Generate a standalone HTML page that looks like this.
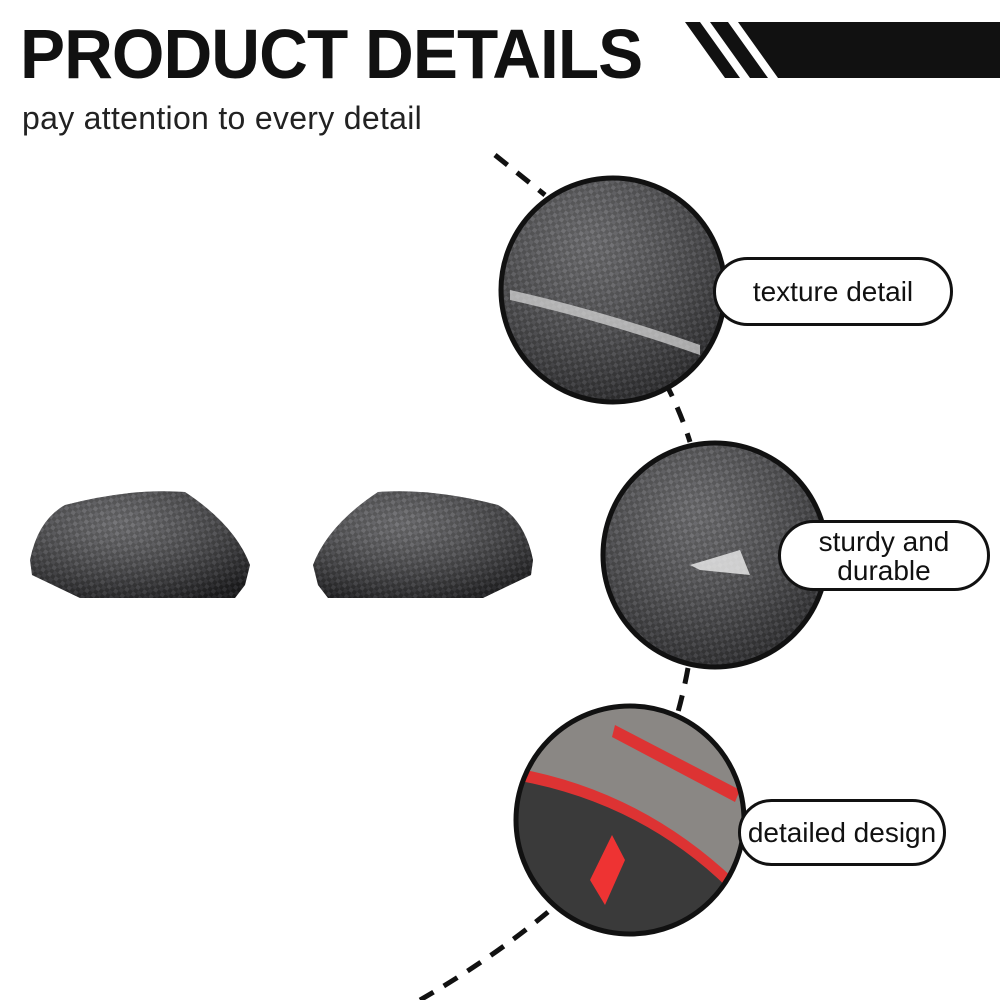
<!DOCTYPE html>
<html><head><meta charset="utf-8"><style>
body{margin:0;width:1000px;height:1000px;background:#fff;position:relative;overflow:hidden;font-family:"Liberation Sans",sans-serif}
.t{position:absolute;left:20px;top:14px;font-size:70px;font-weight:bold;letter-spacing:-1px;color:#111;transform:scaleX(0.965);transform-origin:left top;white-space:nowrap}
.s{position:absolute;left:22px;top:100px;font-size:32px;color:#222;letter-spacing:0.3px;white-space:nowrap}
.pill{position:absolute;border:3px solid #111;border-radius:40px;background:#fff;font-size:28px;color:#111;display:flex;align-items:center;justify-content:center;text-align:center;line-height:29px;box-sizing:border-box}
</style></head><body>
<div class="t">PRODUCT DETAILS</div>
<div class="s">pay attention to every detail</div>
<svg width="1000" height="1000" style="position:absolute;left:0;top:0">
<defs>
<pattern id="cf" width="8" height="8" patternUnits="userSpaceOnUse" patternTransform="rotate(35)">
<rect width="8" height="8" fill="#2a2a2c"/><rect width="4" height="4" fill="#4a4a4e"/><rect x="4" y="4" width="4" height="4" fill="#3c3c40"/></pattern>
<radialGradient id="sh" cx="0.4" cy="0.3" r="0.8"><stop offset="0" stop-color="#fff" stop-opacity="0.25"/><stop offset="1" stop-color="#000" stop-opacity="0.4"/></radialGradient>
<clipPath id="c1"><circle cx="613" cy="290" r="111"/></clipPath>
<clipPath id="c2"><circle cx="715" cy="555" r="111"/></clipPath>
<clipPath id="c3"><circle cx="630" cy="820" r="113"/></clipPath>
</defs>
<polygon points="685,22 700,22 740,78 725,78" fill="#111"/>
<polygon points="710,22 728,22 768,78 750,78" fill="#111"/>
<polygon points="738,22 1000,22 1000,78 778,78" fill="#111"/>
<g fill="none" stroke="#111" stroke-width="5" stroke-dasharray="16,12">
<path d="M495,155 Q520,175 545,195"/>
<path d="M665,382 Q680,410 690,442"/>
<path d="M688,668 Q684,690 678,712"/>
<path d="M548,912 Q490,960 420,1000"/>
</g>
<path d="M30,560 Q38,520 65,505 Q130,488 185,492 Q235,525 250,565 L245,585 L235,598 L80,598 L32,575 Z" fill="url(#cf)"/>
<path d="M30,560 Q38,520 65,505 Q130,488 185,492 Q235,525 250,565 L245,585 L235,598 L80,598 L32,575 Z" fill="url(#sh)"/>
<path d="M533,560 Q525,520 498,505 Q433,488 378,492 Q328,525 313,565 L318,585 L328,598 L483,598 L531,575 Z" fill="url(#cf)"/>
<path d="M533,560 Q525,520 498,505 Q433,488 378,492 Q328,525 313,565 L318,585 L328,598 L483,598 L531,575 Z" fill="url(#sh)"/>
<g clip-path="url(#c1)"><rect x="490" y="170" width="250" height="240" fill="url(#cf)"/><rect x="490" y="170" width="250" height="240" fill="url(#sh)"/>
<path d="M510,290 Q600,310 700,345 L700,355 Q600,320 510,300Z" fill="#ddd" opacity="0.7"/></g>
<circle cx="613" cy="290" r="112" fill="none" stroke="#111" stroke-width="5"/>
<g clip-path="url(#c2)"><rect x="600" y="440" width="240" height="240" fill="url(#cf)"/><rect x="600" y="440" width="240" height="240" fill="url(#sh)"/>
<path d="M690,565 L740,550 L750,575 L700,570Z" fill="#eee" opacity="0.8"/></g>
<circle cx="715" cy="555" r="112" fill="none" stroke="#111" stroke-width="5"/>
<g clip-path="url(#c3)"><rect x="510" y="700" width="250" height="240" fill="#8a8784"/>
<path d="M515,770 Q640,800 730,890 L760,940 L510,940Z" fill="#3a3a3a"/>
<path d="M515,768 Q640,790 735,880 L728,888 Q640,802 515,780Z" fill="#d33"/>
<path d="M615,725 L740,790 L735,802 L612,737Z" fill="#d33"/>
<path d="M612,835 L625,860 L605,905 L590,880Z" fill="#e33"/></g>
<circle cx="630" cy="820" r="114" fill="none" stroke="#111" stroke-width="5"/>
</svg>
<div class="pill" style="left:713px;top:257px;width:240px;height:69px">texture detail</div>
<div class="pill" style="left:778px;top:520px;width:212px;height:71px">sturdy and<br>durable</div>
<div class="pill" style="left:738px;top:799px;width:208px;height:67px">detailed design</div>
</body></html>
